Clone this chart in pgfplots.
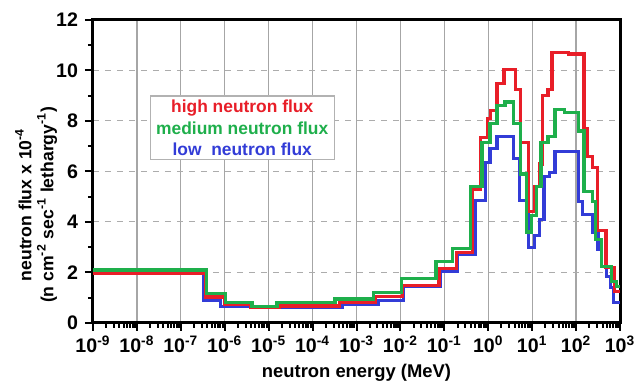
\documentclass[border=0pt]{standalone}
\usepackage{pgfplots}
\pgfplotsset{compat=1.18}
\usepackage{fontspec}
\setmainfont{Liberation Sans}
\definecolor{cred}{RGB}{232,30,40}
\definecolor{cgreen}{RGB}{30,175,75}
\definecolor{cblue}{RGB}{50,60,215}
\begin{document}
\begin{tikzpicture}
\useasboundingbox (-46.5pt,-30pt) rectangle (271pt,161.5pt);
\begin{axis}[
  at={(0,0)}, anchor=south west,
  scale only axis, width=263.5pt, height=151.5pt,
  xmode=log, xmin=1e-9, xmax=1e3, ymin=0, ymax=12,
  axis line style={line width=1.5pt},
  xtick={1e-9,1e-8,1e-7,1e-6,1e-5,1e-4,1e-3,1e-2,1e-1,1e0,1e1,1e2,1e3},
  xticklabels={10\textsuperscript{-9},10\textsuperscript{-8},10\textsuperscript{-7},10\textsuperscript{-6},10\textsuperscript{-5},10\textsuperscript{-4},10\textsuperscript{-3},10\textsuperscript{-2},10\textsuperscript{-1},10\textsuperscript{0},10\textsuperscript{1},10\textsuperscript{2},10\textsuperscript{3}},
  minor xtick={2e-9,3e-9,4e-9,5e-9,6e-9,7e-9,8e-9,9e-9,
    2e-8,3e-8,4e-8,5e-8,6e-8,7e-8,8e-8,9e-8,
    2e-7,3e-7,4e-7,5e-7,6e-7,7e-7,8e-7,9e-7,
    2e-6,3e-6,4e-6,5e-6,6e-6,7e-6,8e-6,9e-6,
    2e-5,3e-5,4e-5,5e-5,6e-5,7e-5,8e-5,9e-5,
    2e-4,3e-4,4e-4,5e-4,6e-4,7e-4,8e-4,9e-4,
    2e-3,3e-3,4e-3,5e-3,6e-3,7e-3,8e-3,9e-3,
    2e-2,3e-2,4e-2,5e-2,6e-2,7e-2,8e-2,9e-2,
    0.2,0.3,0.4,0.5,0.6,0.7,0.8,0.9,
    2,3,4,5,6,7,8,9,
    20,30,40,50,60,70,80,90,
    200,300,400,500,600,700,800,900},
  ytick={0,2,4,6,8,10,12},
  yticklabels={0,2,4,6,8,10,12},
  minor ytick={1,3,5,7,9,11},
  xtick pos=left, ytick pos=left,
  tick align=outside,
  major tick length=4pt, minor tick length=2.5pt,
  every tick/.style={black, line width=1pt},
  tick label style={font=\fontsize{9.8}{10}\selectfont\bfseries},
  xticklabel style={yshift=1pt},
  xmajorgrids, ymajorgrids,
  x grid style={gray!70, line width=0.6pt},
  y grid style={gray!65, dashed, line width=0.5pt},
  xlabel={neutron energy (MeV)},
  xlabel style={font=\fontsize{9.2}{11}\selectfont\bfseries, at={(axis description cs:0.5,0)}, anchor=center, yshift=-25pt},
  ylabel={neutron flux x 10\textsuperscript{-4}\\(n cm\textsuperscript{-2} sec\textsuperscript{-1} lethargy\textsuperscript{-1})},
  ylabel style={font=\fontsize{8.8}{11}\selectfont\bfseries, align=center, at={(axis description cs:-0.108,0.39)}, anchor=center, rotate=0},
  every axis plot/.append style={line width=1.6pt, const plot mark left, mark=none},
  clip=true,
]
\addplot[cblue] coordinates {
(1e-9,2.1) (3.3e-7,0.9) (7.94e-7,0.65) (3.8e-6,0.6) (4.68e-4,0.75) (3.16e-3,0.88)
(1.17e-2,1.45) (8.32e-2,2.05) (0.2,2.7) (0.5,4.85) (0.851,6.35) (1.096,6.9) (1.585,7.4)
(3.80,6.5) (5.13,4.85) (8.13,3.0) (11.22,3.45) (14.45,4.1) (18.6,5.8) (24.5,5.95)
(33.1,6.8) (112,4.8) (141,4.3) (240,3.6) (316,2.9) (380,2.25) (501,1.85) (603,1.4)
(708,0.8) (1000,0.8)};
\addplot[cred] coordinates {
(1e-9,1.97) (3.63e-7,1.03) (1e-6,0.72) (3.98e-6,0.62) (1.78e-5,0.67) (4.17e-4,0.81)
(2.75e-3,1.05) (1.12e-2,1.49) (7.59e-2,2.15) (0.19,2.8) (0.447,5.3) (0.661,7.35)
(0.955,8.1) (1.122,8.4) (1.585,9.5) (2.291,10.05) (4.169,9.25) (5.37,7.15) (8.13,4.4)
(11.22,5.4) (14.45,6.3) (16.98,9.0) (22.9,9.25) (28.2,10.7) (66.1,10.65) (151,7.7)
(178,6.6) (240,6.15) (302,3.65) (479,2.2) (759,1.25) (1000,1.25)};
\addplot[cgreen] coordinates {
(1e-9,2.1) (3.8e-7,1.18) (1.05e-6,0.82) (4.17e-6,0.65) (1.55e-5,0.8) (3.24e-4,0.95)
(2.40e-3,1.2) (1.05e-2,1.75) (6.46e-2,2.42) (0.155,2.95) (0.398,5.4) (0.724,7.15)
(1.096,7.9) (1.585,8.6) (2.399,8.75) (3.80,7.9) (5.37,5.9) (7.41,3.6) (9.55,4.25)
(12.3,5.4) (15.85,7.15) (22.9,7.4) (33.1,8.45) (53.7,8.35) (112,7.6) (151,5.2)
(240,4.8) (282,3.3) (380,2.25) (631,1.65) (832,1.45) (1000,1.45)};
\node[draw=gray!60, line width=0.6pt, fill=white, align=center, inner xsep=3pt, inner ysep=2pt,
  font=\fontsize{8.7}{10.75}\selectfont\bfseries] at (axis cs:2.5e-6,7.73)
  {\textcolor{cred}{high neutron flux}\\\textcolor{cgreen}{medium neutron flux}\\\textcolor{cblue}{low\ \ neutron flux}};
\end{axis}
\end{tikzpicture}
\end{document}
